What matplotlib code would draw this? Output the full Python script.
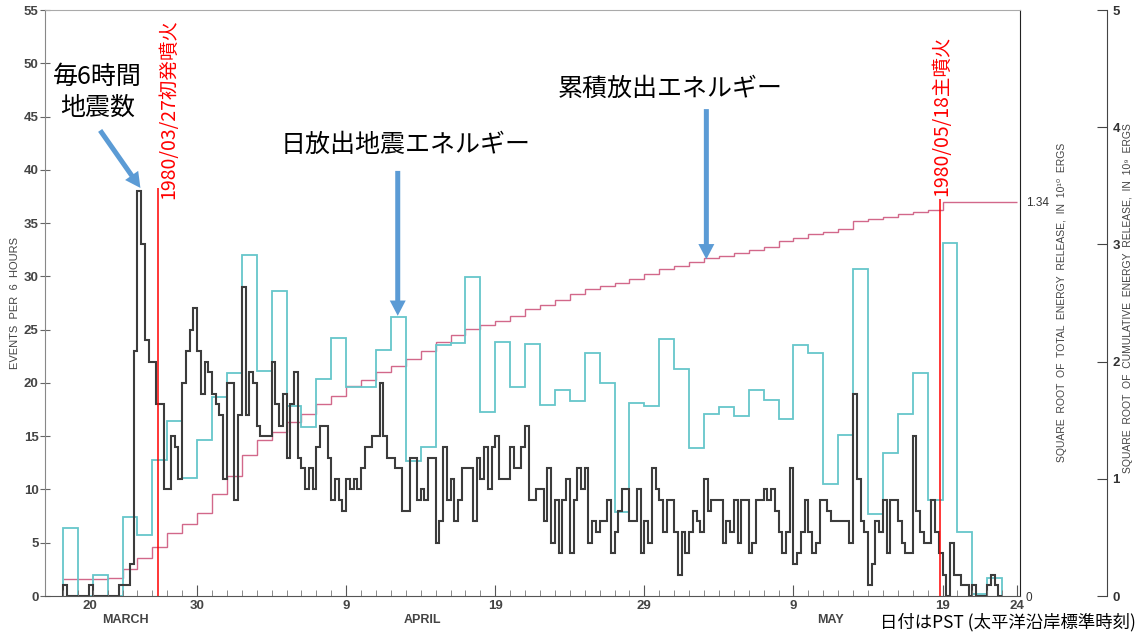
import numpy as np
import matplotlib
matplotlib.use("Agg")
import matplotlib.pyplot as plt
from matplotlib.transforms import blended_transform_factory

plt.rcParams['font.family'] = ['Liberation Sans', 'DejaVu Sans']
JP = ['Noto Sans CJK JP', 'DejaVu Sans']

# 日付は3月1日起算の日数 (3/30 = 30, 4/9 = 40, 5/19 = 80)
first_day = 21

# 6時間ごとの地震数 (3/21 0時から)
events_6h = [
    1, 0, 0, 0,      # 3/21
    0, 0, 0, 1,
    0, 0, 0, 0,
    0, 0, 0, 1,
    1, 1, 3, 23,
    38, 33, 24, 22,  # 3/26
    22, 18, 18, 10,
    10, 15, 14, 11,
    20, 23, 25, 27,
    23, 19, 22, 21,  # 3/30
    19, 18, 17, 11,
    20, 20, 9, 17,   # 4/1
    29, 17, 21, 20,
    16, 15, 15, 15,
    22, 18, 16, 19,
    13, 18, 21, 13,
    12, 10, 12, 10,
    14, 16, 16, 13,
    9, 11, 9, 8,
    11, 10, 11, 10,  # 4/9
    12, 14, 14, 15,
    15, 20, 15, 13,
    13, 12, 12, 8,
    8, 13, 13, 9,
    10, 9, 13, 13,
    5, 7, 14, 9,
    11, 7, 9, 12,
    12, 12, 7, 13,
    11, 14, 10, 14,
    15, 11, 11, 11,  # 4/19
    14, 12, 12, 14,
    16, 9, 9, 10,
    10, 7, 12, 5,
    9, 4, 9, 11,
    4, 9, 12, 10,
    12, 5, 7, 6,
    7, 7, 9, 4,
    6, 8, 10, 10,
    7, 7, 10, 4,
    7, 5, 12, 10,    # 4/29
    9, 6, 9, 9,
    6, 2, 6, 4,      # 5/1
    6, 8, 7, 6,
    11, 8, 9, 9,
    9, 5, 7, 6,
    9, 5, 9, 9,
    4, 5, 9, 9,
    10, 9, 10, 8,
    6, 4, 6, 12,
    3, 4, 6, 9,      # 5/9
    6, 4, 5, 9,
    9, 8, 7, 7,
    7, 7, 7, 5,
    19, 11, 7, 6,
    1, 3, 7, 6,
    9, 4, 9, 9,
    7, 5, 4, 4,
    15, 8, 6, 5,
    5, 9, 6, 4,
    2, 0, 5, 2,      # 5/19
    2, 1, 1, 0,
    1, 0, 0, 0,
    1, 2, 1, 0,      # 5/22
]

# 日放出エネルギー (平方根, 外側の右軸 0-5)
daily_energy = [
    0.58, 0.00, 0.18, 0.00, 0.67, 0.52, 1.16, 1.49, 1.01, 1.33,   # 3/21-3/30
    1.70, 1.90, 2.91, 1.92, 2.60, 1.62, 1.44, 1.85, 2.20, 1.78,   # 3/31-4/9
    1.78, 2.10, 2.38, 1.15, 1.27, 2.14, 2.16, 2.72, 1.57, 2.17,   # 4/10-4/19
    1.78, 2.15, 1.63, 1.76, 1.66, 2.07, 1.82, 0.72, 1.65, 1.62,   # 4/20-4/29
    2.19, 1.94, 1.26, 1.55, 1.61, 1.54, 1.76, 1.67, 1.51, 2.14,   # 4/30-5/9
    2.07, 0.96, 1.37, 2.79, 0.70, 1.22, 1.55, 1.90, 0.82, 3.01,   # 5/10-5/19
    0.55, 0.02, 0.15,                                              # 5/20-5/22
]

# 累積放出エネルギー (平方根, 内側の右軸, 最終値 1.34)
cum_energy = [
    0.058, 0.058, 0.058, 0.062, 0.091, 0.130, 0.167, 0.214, 0.246, 0.283,
    0.348, 0.409, 0.478, 0.529, 0.558, 0.590, 0.619, 0.652, 0.681, 0.714,
    0.735, 0.761, 0.782, 0.804, 0.833, 0.862, 0.887, 0.906, 0.920, 0.934,
    0.953, 0.974, 0.989, 1.007, 1.025, 1.043, 1.054, 1.065, 1.076, 1.094,
    1.112, 1.123, 1.134, 1.148, 1.155, 1.166, 1.177, 1.188, 1.206, 1.217,
    1.231, 1.239, 1.246, 1.275, 1.282, 1.289, 1.297, 1.304, 1.311, 1.340,
    1.340, 1.340, 1.340, 1.340,
]

eruption_days = [27.39, 79.83]
eruption_tops = [38.3, 37.3]
eruption_labels = ['1980/03/27初発噴火', '1980/05/18主噴火']

tick_days = [22.83, 30, 40, 50, 60, 70, 80, 85]
tick_labels = ['20', '30', '9', '19', '29', '9', '19', '24']
months = ['MARCH', 'APRIL', 'MAY']
month_pos = [25.2, 45.1, 72.5]

black_edges = first_day + np.arange(len(events_6h) + 1) * 0.25
cyan_edges = first_day + np.arange(len(daily_energy) + 1)
pink_edges = first_day + np.arange(len(cum_energy) + 1)

fig = plt.figure(figsize=(11.42, 6.35), dpi=100)
ax = fig.add_axes([0.0394, 0.0614, 0.8538, 0.9228])
ax2 = ax.twinx()
ax3 = ax.twinx()
ax.set_zorder(3)
ax.patch.set_visible(False)

ax.stairs(events_6h, black_edges, color='#3c3c3c', lw=1.5)
ax3.stairs(daily_energy, cyan_edges, color='#66c6ca', lw=1.3)
ax2.stairs(cum_energy, pink_edges, baseline=None, color='#d2688a', lw=1.0)

ax.set_xlim(19.8, 85.2)
ax.set_ylim(0, 55)
ax2.set_ylim(0, 1.34 * 55 / 37)
ax3.set_ylim(0, 5)

# 軸と目盛
for s, c in zip(['top', 'left', 'bottom', 'right'], ['#aaaaaa', '#888888', '#555555', '#222222']):
    ax.spines[s].set_color(c)
for s in ax2.spines.values():
    s.set_visible(False)
for s in ['top', 'left', 'bottom']:
    ax3.spines[s].set_visible(False)
ax3.spines['right'].set_position(('axes', 1.0892))
ax3.spines['right'].set_color('#444444')

ax.set_yticks(np.arange(0, 56, 5))
ax.tick_params(axis='y', direction='inout', length=7, color='#666666', labelsize=9.5,
               labelcolor='#444444', pad=1)
ax.set_xticks(tick_days)
ax.set_xticklabels(tick_labels)
ax.set_xticks(np.arange(21, 85), minor=True)
ax.tick_params(axis='x', which='major', direction='in', length=8, color='#555555',
               labelsize=9.5, labelcolor='#444444', pad=3)
ax.tick_params(axis='x', which='minor', direction='in', length=4, color='#777777')
ax.xaxis.get_major_ticks()[0].tick1line.set_visible(False)
for lab in ax.get_xticklabels() + ax.get_yticklabels():
    lab.set_fontweight('bold')

ax2.set_yticks([0, 1.34])
ax2.set_yticklabels(['0', '1.34'])
ax2.tick_params(axis='y', length=0, labelsize=8.5, labelcolor='#333333', pad=4)

ax3.set_yticks(np.arange(0, 6))
ax3.tick_params(axis='y', direction='in', length=7, color='#444444', labelsize=9.5,
                labelcolor='#333333', pad=4)
for lab in ax3.get_yticklabels():
    lab.set_fontweight('bold')

trans = blended_transform_factory(ax.transData, ax.transAxes)
for m, x in zip(months, month_pos):
    ax.text(x, -0.041, m, transform=trans, ha='center', va='center', fontsize=9,
            fontweight='bold', color='#444444')

fig.text(15 / 1142, 1 - 303 / 635, 'EVENTS  PER  6  HOURS', rotation=90, ha='center',
         va='center', fontsize=8, color='#444444')
fig.text(1062 / 1142, 1 - 302 / 635, 'SQUARE  ROOT  OF  TOTAL  ENERGY  RELEASE,  IN  10¹⁰  ERGS',
         rotation=90, ha='center', va='center', fontsize=7.5, color='#444444')
fig.text(1128 / 1142, 1 - 298 / 635,
         'SQUARE  ROOT  OF  CUMULATIVE  ENERGY  RELEASE,  IN  10⁹  ERGS',
         rotation=90, ha='center', va='center', fontsize=7.5, color='#444444')

# 噴火日
ax.vlines(eruption_days, 0, eruption_tops, color='#ff0000', lw=1.1)
ax.text(28.1, 37.3, eruption_labels[0], rotation=90, ha='center', va='bottom',
        fontsize=14, color='#ff0000', family=JP)
ax.text(79.95, 37.5, eruption_labels[1], rotation=90, ha='center', va='bottom',
        fontsize=14, color='#ff0000', family=JP)

# 注釈
blue = '#5b9bd5'
arrow = dict(arrowstyle='simple,head_width=1.15,head_length=1.1,tail_width=0.36',
             fc=blue, ec='none', mutation_scale=10, shrinkA=0, shrinkB=0)
ax.text(23.3, 47.3, '毎6時間\n地震数', ha='center', va='center', fontsize=18,
        linespacing=1.25, family=JP)
ax.annotate('', xy=(26.2, 38.3), xytext=(23.5, 43.7), arrowprops=arrow)
ax.text(44.0, 42.3, '日放出地震エネルギー', ha='center', va='center', fontsize=18, family=JP)
ax.annotate('', xy=(43.46, 26.3), xytext=(43.46, 39.9), arrowprops=arrow)
ax.text(61.75, 47.6, '累積放出エネルギー', ha='center', va='center', fontsize=18, family=JP)
ax.annotate('', xy=(64.16, 31.6), xytext=(64.16, 45.7), arrowprops=arrow)

fig.text(1136 / 1142, 1 - 622 / 635, '日付はPST (太平洋沿岸標準時刻)', ha='right', va='center',
         fontsize=12.5, family=JP)

fig.savefig('out.png', dpi=100)
